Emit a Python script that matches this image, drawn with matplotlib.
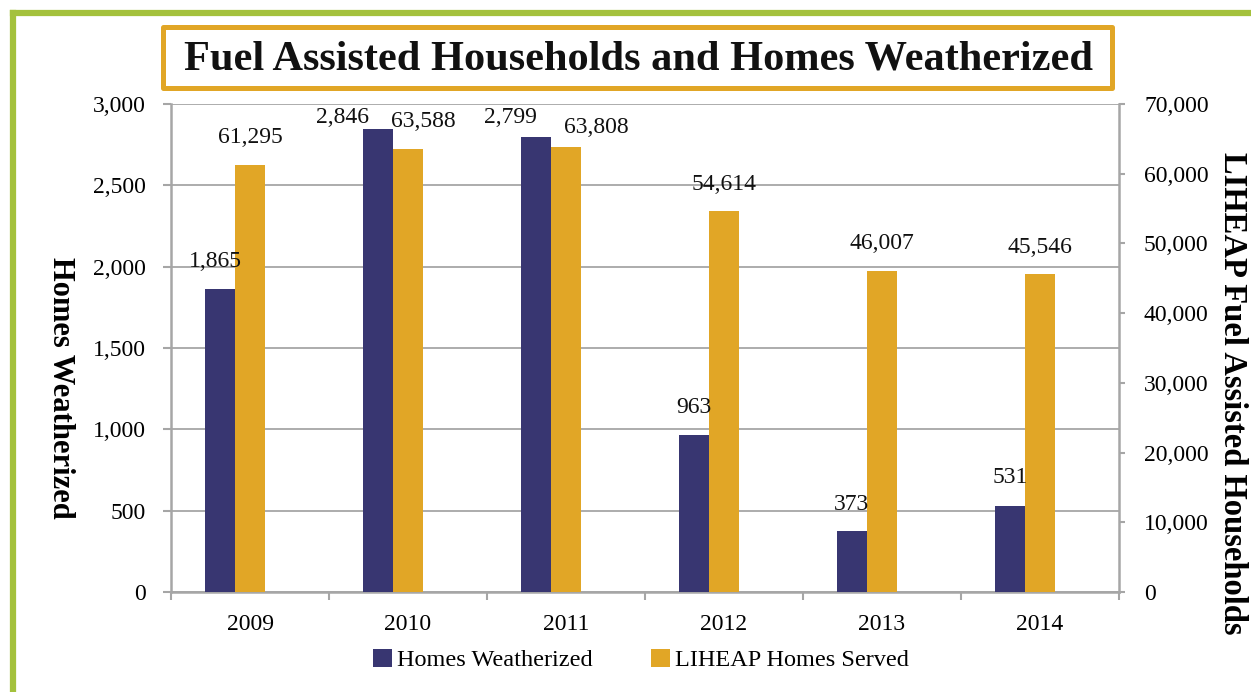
import numpy as np
import matplotlib
matplotlib.use("Agg")
import matplotlib.pyplot as plt
from matplotlib.patches import Rectangle, Patch
from matplotlib.lines import Line2D
from matplotlib.ticker import StrMethodFormatter

# ---------------------------------------------------------------------------
# data
# ---------------------------------------------------------------------------
years = ["2009", "2010", "2011", "2012", "2013", "2014"]
homes_weatherized = [1865, 2846, 2799, 963, 373, 531]
liheap_served = [61295, 63588, 63808, 54614, 46007, 45546]

series_names = ["Homes Weatherized", "LIHEAP Homes Served"]
title = "Fuel Assisted Households and Homes Weatherized"
left_label = "Homes Weatherized"
right_label = "LIHEAP Fuel Assisted Households"

# label nudges in pixels (dx, dy above bar top)
navy_offsets = [(-5, 27), (-35, 12), (-26, 19), (0, 28), (0, 27), (0, 28)]
gold_offsets = [(0, 27), (15, 27), (30, 20), (0, 27), (0, 28), (0, 27)]

NAVY = "#383671"
GOLD = "#E1A626"
GREEN = "#A4C13C"
GRID = "#A6A6A6"

plt.rcParams["font.family"] = ["Liberation Serif", "DejaVu Serif"]

W, H = 1251, 692
fig = plt.figure(figsize=(W / 100, H / 100), dpi=100)
fig.patch.set_facecolor("white")

ax = fig.add_axes([171 / W, 1 - 592 / H, 948 / W, 488 / H])
ax2 = ax.twinx()

x = np.arange(len(years))
bw = 0.19

ax.bar(x - bw, homes_weatherized, width=bw, color=NAVY, zorder=3)
ax2.bar(x, liheap_served, width=bw, color=GOLD, zorder=3)

ax.set_xlim(-0.5, len(years) - 0.5)
ax.set_ylim(0, 3000)
ax2.set_ylim(0, 70000)
ax.set_yticks(np.arange(0, 3001, 500))
ax2.set_yticks(np.arange(0, 70001, 10000))
ax.yaxis.set_major_formatter(StrMethodFormatter("{x:,.0f}"))
ax2.yaxis.set_major_formatter(StrMethodFormatter("{x:,.0f}"))

ax.set_axisbelow(True)
ax.yaxis.grid(True, color=GRID, linewidth=1.3)

# category ticks: labels at centres, marks at boundaries
ax.set_xticks(x)
ax.set_xticklabels(years)
ax.set_xticks(np.arange(-0.5, len(years)), minor=True)
ax.tick_params(axis="x", which="major", length=0, pad=16, labelsize=17)
ax.tick_params(axis="x", which="minor", length=6, width=1.5, color=GRID)
ax.tick_params(axis="y", length=6, width=1.5, color=GRID, pad=12, labelsize=17)
ax2.tick_params(axis="y", length=4, width=1.5, color=GRID, pad=14, labelsize=17)

for a in (ax, ax2):
    a.spines["top"].set_visible(False)
    for s in ("left", "right", "bottom"):
        a.spines[s].set_color(GRID)
        a.spines[s].set_linewidth(1.8)
ax.spines["right"].set_visible(False)
ax2.spines["left"].set_visible(False)
ax2.spines["bottom"].set_visible(False)

px = 72 / 100  # points per pixel

for i, v in enumerate(homes_weatherized):
    dx, dy = navy_offsets[i]
    ax2.annotate(f"{v:,}", xy=(x[i] - bw, v), xycoords=ax.transData,
                 xytext=(dx * px, dy * px), textcoords="offset points",
                 ha="center", va="center", fontsize=17, color="#111111",
                 zorder=5, annotation_clip=False)

for i, v in enumerate(liheap_served):
    dx, dy = gold_offsets[i]
    ax2.annotate(f"{v:,}", xy=(x[i], v), xycoords=ax2.transData,
                 xytext=(dx * px, dy * px), textcoords="offset points",
                 ha="center", va="center", fontsize=17, color="#111111",
                 zorder=5, annotation_clip=False)

# axis titles
fig.text(60 / W, 1 - 388 / H, left_label, rotation=270, ha="center",
         va="center", fontsize=22, fontweight="bold")
fig.text(1232 / W, 1 - 393 / H, right_label, rotation=270, ha="center",
         va="center", fontsize=23.5, fontweight="bold")

# title in gold frame
fig.patches.append(Rectangle((163 / W, 1 - 88 / H), (1112 - 163) / W, 61 / H,
                             transform=fig.transFigure, facecolor="white",
                             edgecolor=GOLD, linewidth=3.6, joinstyle="round"))
fig.text(638 / W, 1 - 60 / H, title, ha="center", va="center",
         fontsize=30.5, fontweight="bold", color="#111111")

# green page frame (top and left edges)
fig.lines.append(Line2D([13 / W, 1], [1 - 13 / H, 1 - 13 / H],
                        transform=fig.transFigure, color=GREEN, linewidth=4.5))
fig.lines.append(Line2D([13 / W, 13 / W], [0, 1 - 13 / H],
                        transform=fig.transFigure, color=GREEN, linewidth=4.5))

handles = [Patch(facecolor=NAVY), Patch(facecolor=GOLD)]
fig.legend(handles, series_names, loc="center", ncol=2,
           bbox_to_anchor=(641 / W, 1 - 660 / H), frameon=False,
           fontsize=17.5, handlelength=0.8, handleheight=0.8,
           handletextpad=0.2, columnspacing=2.4)

fig.savefig("out.png", dpi=100)
